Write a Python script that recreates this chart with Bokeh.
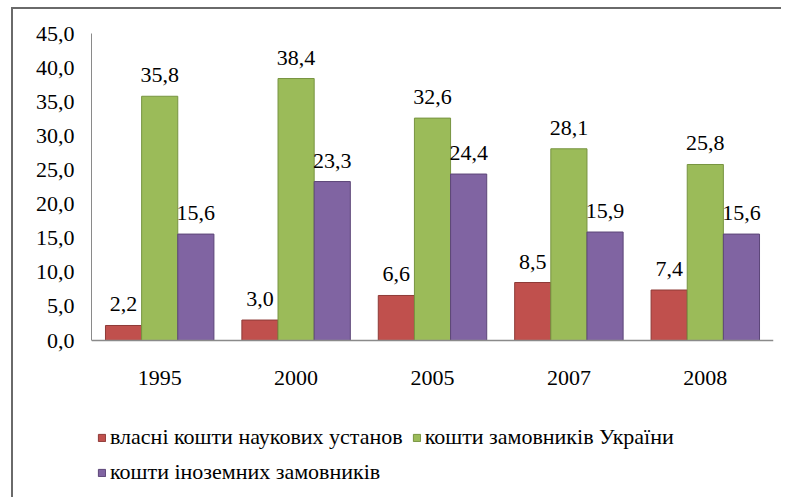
from bokeh.plotting import figure
from bokeh.models import (ColumnDataSource, LabelSet, Legend, LegendItem, Span,
                          SingleIntervalTicker, CustomJSTickFormatter, Range1d)
from bokeh.transform import dodge
from bokeh.core.properties import value
from bokeh.embed import file_html
from bokeh.resources import INLINE

# ---- data ----
years = ["1995", "2000", "2005", "2007", "2008"]
own_funds = [2.2, 3.0, 6.6, 8.5, 7.4]
domestic_clients = [35.8, 38.4, 32.6, 28.1, 25.8]
foreign_clients = [15.6, 23.3, 24.4, 15.9, 15.6]
series_names = ["власні кошти наукових установ",
                "кошти замовників України",
                "кошти іноземних замовників"]
y_min, y_max, y_step = 0, 45, 5

def fmt(v):
    return f"{v:.1f}".replace(".", ",")

src = ColumnDataSource(dict(
    year=years,
    own=own_funds, domestic=domestic_clients, foreign=foreign_clients,
    own_lbl=[fmt(v) for v in own_funds],
    domestic_lbl=[fmt(v) for v in domestic_clients],
    foreign_lbl=[fmt(v) for v in foreign_clients],
    base=[y_min] * len(years),
))

FONT = "Liberation Serif"
FS = "22px"
W, H = 770, 490
MB_LEFT, MB_RIGHT, MB_TOP, MB_BOTTOM = 78, 10, 24, 0
PLOT_PX = 307                      # pixel height of the value area (0..45)
frame_h = H - MB_TOP - MB_BOTTOM
y_lo = y_max - (y_max - y_min) * frame_h / PLOT_PX   # room below for labels + legend

p = figure(x_range=years, y_range=Range1d(y_lo, y_max), width=W, height=H,
           output_backend="svg", toolbar_location=None, x_axis_location=None,
           min_border_left=MB_LEFT, min_border_right=MB_RIGHT,
           min_border_top=MB_TOP, min_border_bottom=MB_BOTTOM)
p.styles = {"border-top": "2px solid #6a6a6a", "border-left": "2px solid #6a6a6a",
            "margin-left": "11px", "margin-top": "7px"}
p.outline_line_color = None
p.xgrid.grid_line_color = None
p.ygrid.grid_line_color = None
p.background_fill_color = "white"
p.border_fill_color = "white"

bw = 0.265
cols = [("own", "#C0504D", "#8E3A37"),
        ("domestic", "#9BBB59", "#779440"),
        ("foreign", "#8064A2", "#5C4678")]
offsets = [-bw, 0.0, bw]
renderers = []
for (key, fc, lc), off in zip(cols, offsets):
    r = p.vbar(x=dodge("year", off, range=p.x_range), top=key, bottom="base", width=bw,
               source=src, fill_color=fc, line_color=lc, line_width=1)
    renderers.append(r)
    lbl = LabelSet(x=dodge("year", off, range=p.x_range), y=key, text=key + "_lbl",
                   source=src, y_offset=21, text_align="center",
                   text_baseline="middle", text_font=value(FONT),
                   text_font_size=FS, text_color="black")
    p.add_layout(lbl)

# category axis: baseline + labels
p.add_layout(Span(location=y_min, dimension="width", line_color="#8a8a8a", line_width=1.5))
p.add_layout(LabelSet(x="year", y="base", text="year", source=src, y_offset=-37,
                      text_align="center", text_baseline="middle",
                      text_font=value(FONT), text_font_size=FS, text_color="black"))

# value axis
p.yaxis.bounds = (y_min, y_max)
p.yaxis.ticker = SingleIntervalTicker(interval=y_step)
p.yaxis.formatter = CustomJSTickFormatter(code="return tick.toFixed(1).replace('.', ',');")
p.yaxis.major_tick_in = 0
p.yaxis.major_tick_out = 0
p.yaxis.minor_tick_in = 0
p.yaxis.minor_tick_out = 0
p.yaxis.axis_line_color = "#8a8a8a"
p.yaxis.axis_line_width = 1
p.yaxis.major_label_text_font = FONT
p.yaxis.major_label_text_font_size = FS
p.yaxis.major_label_text_color = "black"
p.yaxis.major_label_standoff = 17

legend = Legend(items=[LegendItem(label=n, renderers=[r]) for n, r in zip(series_names, renderers)],
                location=(6, 14), orientation="horizontal", ncols=2)
legend.label_text_font = FONT
legend.label_text_font_size = FS
legend.label_text_color = "black"
legend.glyph_width = 9
legend.glyph_height = 9
legend.label_standoff = 4
legend.spacing = 9
legend.padding = 0
legend.margin = 0
legend.border_line_color = None
legend.background_fill_alpha = 0
p.add_layout(legend, "center")

open("out.html", "w").write(file_html(p, INLINE))
